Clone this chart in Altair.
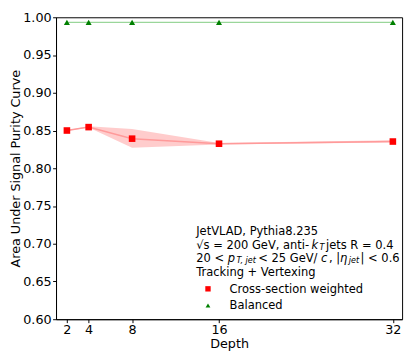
import altair as alt
import pandas as pd

depth = [2, 4, 8, 16, 32]
xsec_auc = [0.850, 0.8545, 0.8392, 0.8325, 0.8354]
xsec_lo = [0.8495, 0.8540, 0.8270, 0.8315, 0.8340]
xsec_hi = [0.8505, 0.8555, 0.8520, 0.8335, 0.8370]
bal_auc = [0.9933, 0.9933, 0.9933, 0.9933, 0.9933]
y_ticks = [0.60, 0.65, 0.70, 0.75, 0.80, 0.85, 0.90, 0.95, 1.00]

FONT = "DejaVu Sans"
PL, PT = 57, 14          # plot-area origin in page pixels
W, H = 353, 308

red = pd.DataFrame({"depth": depth, "auc": xsec_auc, "lo": xsec_lo, "hi": xsec_hi})
green = pd.DataFrame({"depth": depth, "auc": bal_auc})

xs = alt.Scale(domain=[1, 32.85], nice=False, zero=False)
ys = alt.Scale(domain=[0.6, 1.0], nice=False, zero=False)

xax = alt.Axis(values=depth, title="Depth", grid=False, tickSize=3.5, labelPadding=1,
               titlePadding=1.5, labelFontSize=13, titleFontSize=13, format="d",
               labelFont=FONT, titleFont=FONT, titleFontWeight="normal")
yax = alt.Axis(values=y_ticks, title="Area Under Signal Purity Curve", grid=False,
               tickSize=3.5, labelPadding=1.5, titlePadding=0, labelFontSize=13,
               titleFontSize=13, format=".2f",
               labelFont=FONT, titleFont=FONT, titleFontWeight="normal")

X = alt.X("depth:Q", scale=xs, axis=xax)
Y = alt.Y("auc:Q", scale=ys, axis=yax)

band = alt.Chart(red).mark_area(color="#ff0000", opacity=0.2, line=False).encode(
    x=X, y=alt.Y("lo:Q", scale=ys, axis=yax), y2="hi:Q")
red_line = alt.Chart(red).mark_line(color="#ff9a9a", strokeWidth=1.5).encode(x=X, y=Y)
red_pts = alt.Chart(red).mark_point(shape="square", filled=True, color="#ff0000",
                                     size=45, opacity=1).encode(x=X, y=Y)
green_line = alt.Chart(green).mark_line(color="#9ad69a", strokeWidth=1.2).encode(x=X, y=Y)
green_pts = alt.Chart(green).mark_point(shape="triangle-up", filled=True, color="#008000",
                                         size=38, opacity=1).encode(x=X, y=Y)

# ---- legend / annotation text built from pieces ----
widths = {' ': .318, '=': .838, '<': .838, ',': .318, '.': .318, '/': .337, '|': .337,
          '-': .361, '+': .838, '√': .838, 'η': .634,
          'a': .613, 'c': .550, 'e': .615, 'g': .635, 'h': .634, 'i': .278, 'j': .278,
          'k': .579, 'n': .634, 'p': .635, 's': .521, 't': .392, 'r': .411, 'x': .592,
          'y': .592, 'o': .612, 'd': .635, 'l': .278, 'w': .818, 'u': .634, 'v': .592,
          'G': .775, 'V': .684, 'R': .695, 'T': .611, 'J': .295, 'L': .557, 'A': .684,
          'D': .770, 'P': .603, 'C': .698, 'B': .686, 'S': .635, 'U': .732}
for d in "0123456789":
    widths[d] = .636

FS = 11.7
SUB = 8.2

def tw(s, size, kind):
    extra = 1.5 if kind in ("i", "s") else 0.0
    return sum(widths.get(c, .6) for c in s) * size + extra

header_lines = [
    [("JetVLAD, Pythia8.235", "n")],
    [("√s = 200 GeV, anti-", "n"), ("k", "i"), ("T", "s"), (" jets R = 0.4", "n")],
    [("20 < ", "n"), ("p", "i"), ("T, jet", "s"), (" < 25 GeV/", "n"), ("c", "i"),
     (", |", "n"), ("η", "i"), ("jet", "s"), ("| < 0.6", "n")],
    [("Tracking + Vertexing", "n")],
]
line_y = [232, 246, 259.5, 273.5]
x0 = 200

rows = []
for ly, pieces in zip(line_y, header_lines):
    cx = x0
    for txt, kind in pieces:
        size = SUB if kind == "s" else FS
        rows.append({"t": txt, "x": cx, "y": ly + (3 if kind == "s" else 0),
                     "size": size, "style": "italic" if kind in ("i", "s") else "normal"})
        cx += tw(txt, size, kind)

ann_layers = []
for r in rows:
    ann_layers.append(
        alt.Chart(pd.DataFrame({"t": [r["t"]]})).mark_text(
            align="left", baseline="middle", font=FONT, fontSize=r["size"],
            fontStyle=r["style"], color="black"
        ).encode(x=alt.value(r["x"] - PL), y=alt.value(r["y"] - PT), text="t:N")
    )

leg_names = ["Cross-section weighted", "Balanced"]
leg_y = [291, 308]
leg_shapes = ["square", "triangle-up"]
leg_colors = ["#ff0000", "#008000"]
leg_sizes = [30, 24]
leg_layers = []
for name, ly, shp, col, sz in zip(leg_names, leg_y, leg_shapes, leg_colors, leg_sizes):
    d = pd.DataFrame({"t": [name]})
    leg_layers.append(alt.Chart(d).mark_text(
        align="left", baseline="middle", font=FONT, fontSize=FS, color="black"
    ).encode(x=alt.value(234 - PL), y=alt.value(ly - PT), text="t:N"))
    leg_layers.append(alt.Chart(d).mark_point(
        shape=shp, filled=True, color=col, size=sz, opacity=1
    ).encode(x=alt.value(212 - PL), y=alt.value(ly - PT)))

chart = alt.layer(band, red_line, green_line, red_pts, green_pts,
                  *ann_layers, *leg_layers).properties(
    width=W, height=H,
    autosize=alt.AutoSizeParams(type="none"),
    padding={"left": PL - 8, "top": PT - 8, "right": 5, "bottom": 346 - (PT - 8) - H},
    background="white",
).configure_view(stroke="black", strokeWidth=1).configure_axis(
    domainColor="black", tickColor="black", labelColor="black", titleColor="black",
    labelFont=FONT, titleFont=FONT, titleFontWeight="normal", domainWidth=1,
)

chart.save("out.html", embed_options={"renderer": "svg", "actions": False})
